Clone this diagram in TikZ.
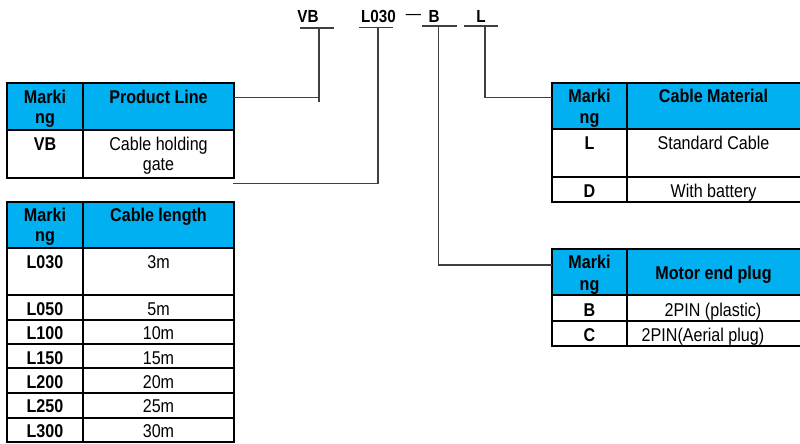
\documentclass[tikz,border=0pt]{standalone}
\usepackage{fontspec}
\setmainfont{Liberation Sans}[FakeStretch=0.87]
\definecolor{hdr}{HTML}{00B0F0}
\definecolor{lnk}{HTML}{404040}
\begin{document}
\begin{tikzpicture}[x=1pt,y=-1pt,
  tb/.style={line width=2.2pt,black},
  conn/.style={line width=1.1pt,lnk},
  txt/.style={font=\fontsize{18.5}{20}\selectfont,anchor=base,inner sep=0pt},
  bt/.style={font=\fontsize{18.5}{20}\selectfont\bfseries,anchor=base,inner sep=0pt},
  code/.style={font=\fontsize{17.5}{20}\selectfont\bfseries,anchor=base,inner sep=0pt}]
\useasboundingbox (0,0) rectangle (800,444);

% ---------- code line ----------
\node[code] (cVB)   at (308,23) {VB};
\node[code] (cL030) at (378.5,23) {L030};
\node[code] (cdash) at (413.5,20) {\mdseries —};
\node[code] (cB)    at (434,23) {B};
\node[code] (cL)    at (481,23) {L};
\coordinate (uVB)   at (319,28);
\coordinate (uL030) at (378,27.5);
\coordinate (uB)    at (438.5,26);
\coordinate (uL)    at (485,26);
\draw[conn] (300,28) -- (334,28);
\draw[conn] (359,27.5) -- (393,27.5);
\draw[conn] (422,26) -- (457,26);
\draw[conn] (464,26) -- (498,26);

% ---------- table 1: Product Line ----------
\fill[hdr] (7,83) rectangle (234,130);
\draw[tb] (7,83) rectangle (234,178);
\draw[tb] (7,130) -- (234,130);
\draw[tb] (83,83) -- (83,178);
\node[bt] (t1m1) at (45,103) {Marki};
\node[bt] (t1m2) at (45,123) {ng};
\node[bt] (t1h)  at (158.5,103) {Product Line};
\node[bt] (t1r1) at (45,150) {VB};
\node[txt] (t1d1) at (158.5,150) {Cable holding};
\node[txt] (t1d2) at (158.5,170.5) {gate};

% ---------- table 2: Cable length ----------
\fill[hdr] (7,201.7) rectangle (234,248.3);
\draw[tb] (7,201.7) rectangle (234,441.7);
\foreach \yy in {248.3,295,320,344.3,368.3,393.3,417.7}
  \draw[tb] (7,\yy) -- (234,\yy);
\draw[tb] (83,201.7) -- (83,441.7);
\node[bt] (t2m1) at (45,221) {Marki};
\node[bt] (t2m2) at (45,241.5) {ng};
\node[bt] (t2h)  at (158.5,221) {Cable length};
\foreach \nm/\cd/\ln/\yy in {a/L030/3m/268.5, b/L050/5m/315.5, c/L100/10m/339.8, d/L150/15m/364, e/L200/20m/388.6, f/L250/25m/412.4, g/L300/30m/437}{
  \node[bt]  (t2c\nm) at (45,\yy) {\cd};
  \node[txt] (t2l\nm) at (158.5,\yy) {\ln};
}

% ---------- table 3: Cable Material ----------
\fill[hdr] (551.7,83.3) rectangle (802,129.3);
\draw[tb] (551.7,83.3) rectangle (802,201.7);
\draw[tb] (551.7,129.3) -- (802,129.3);
\draw[tb] (551.7,176.7) -- (802,176.7);
\draw[tb] (627.3,83.3) -- (627.3,201.7);
\node[bt] (t3m1) at (589.5,102.3) {Marki};
\node[bt] (t3m2) at (589.5,123) {ng};
\node[bt] (t3h)  at (713.5,102.3) {Cable Material};
\node[bt] (t3r1) at (589.5,149) {L};
\node[txt] (t3d1) at (713.5,149) {Standard Cable};
\node[bt] (t3r2) at (589.5,197.7) {D};
\node[txt] (t3d2) at (713.5,197.7) {With battery};

% ---------- table 4: Motor end plug ----------
\fill[hdr] (551.7,249.3) rectangle (802,295);
\draw[tb] (551.7,249.3) rectangle (802,346);
\draw[tb] (551.7,295) -- (802,295);
\draw[tb] (551.7,321) -- (802,321);
\draw[tb] (627.3,249.3) -- (627.3,346);
\node[bt] (t4m1) at (589.5,268.3) {Marki};
\node[bt] (t4m2) at (589.5,290) {ng};
\node[bt] (t4h)  at (713.5,279.3) {Motor end plug};
\node[bt] (t4r1) at (589.5,316.7) {B};
\node[txt] (t4d1) at (713,316.7) {2PIN (plastic)};
\node[bt] (t4r2) at (589.5,341.7) {C};
\node[txt] (t4d2) at (703,341.7) {2PIN(Aerial plug)};

% ---------- connectors ----------
\coordinate (e1) at (234,97.7);
\coordinate (e2) at (233,183.7);
\coordinate (e3) at (551.7,97.3);
\coordinate (e4) at (551.7,265);
\draw[conn] (uVB) -- (uVB |- 0,101.7);
\draw[conn] (e1) -- (uVB |- e1);
\draw[conn] (uL030) |- (e2);
\draw[conn] (uB) |- (e4);
\draw[conn] (uL) |- (e3);
\end{tikzpicture}
\end{document}
